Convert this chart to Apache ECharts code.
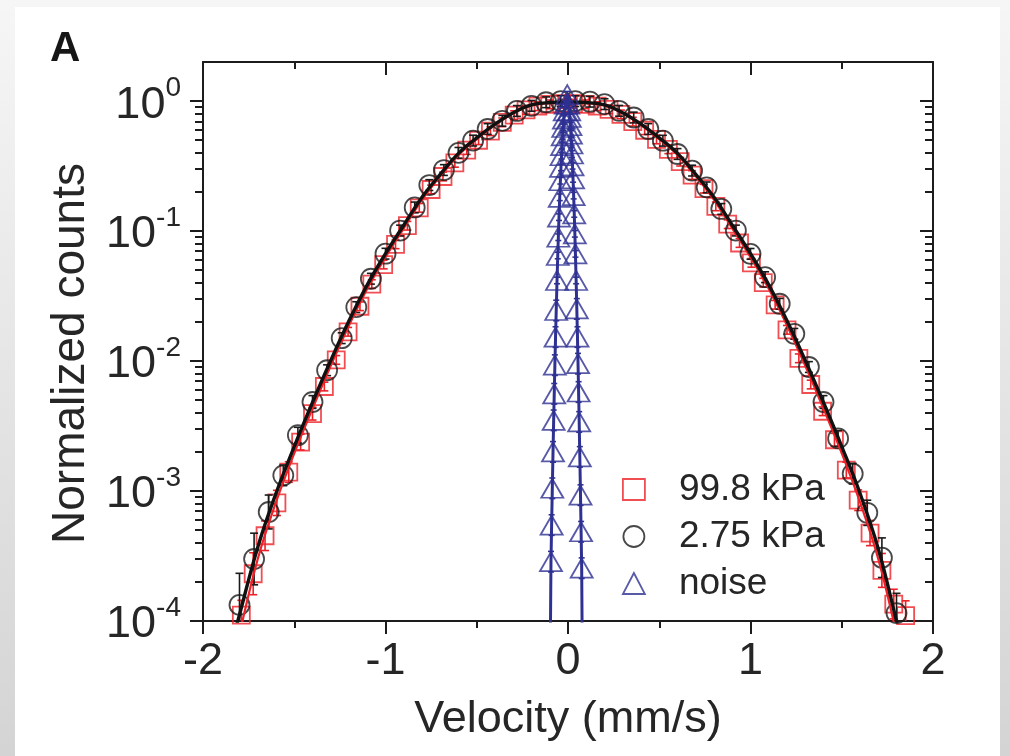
<!DOCTYPE html>
<html><head><meta charset="utf-8">
<script src="https://cdn.jsdelivr.net/npm/echarts@6/dist/echarts.min.js"></script>
<style>
html,body{margin:0;padding:0;width:1010px;height:756px;overflow:hidden;}
body{background:linear-gradient(to bottom,#f6f6f6,#d4d4d4);}
#panel{position:absolute;left:15px;top:7px;width:985px;height:749px;background:#fff;}
#chart{position:absolute;left:0;top:0;width:1010px;height:756px;}
</style></head><body>
<div id="panel"></div><div id="chart"></div>
<script>
// ---- data ----
const xTicks = [-2, -1, 0, 1, 2];
const yTickExponents = [-4, -3, -2, -1, 0];
const legendNames = ['99.8 kPa', '2.75 kPa', 'noise'];

// 2.75 kPa (black circles)
const xCircle = [-1.80,-1.72,-1.64,-1.56,-1.48,-1.40,-1.32,-1.24,-1.16,-1.08,-1.00,-0.92,-0.84,-0.76,-0.68,-0.60,-0.52,-0.44,-0.36,-0.28,-0.20,-0.12,-0.04,
  0.04,0.12,0.20,0.28,0.36,0.44,0.52,0.60,0.68,0.76,0.84,0.92,1.00,1.08,1.16,1.24,1.32,1.40,1.48,1.56,1.64,1.72,1.80];
const yCircle = [1.33e-4,3.0e-4,6.9e-4,1.32e-3,2.69e-3,4.84e-3,8.5e-3,0.0150,0.026,0.043,0.067,0.101,0.152,0.226,0.295,0.40,0.497,0.61,0.706,0.84,0.92,0.98,1.0,
  1.0,0.99,0.948,0.842,0.748,0.61,0.496,0.392,0.292,0.217,0.148,0.101,0.0668,0.0442,0.0276,0.0162,0.0090,0.00484,0.00254,0.00136,6.8e-4,3.07e-4,1.15e-4];
const errCircle = [1.75,1.58,1.35,1.2,1.15,1.12,1.1,1.1,1.1,1.1,1.1,1.1,1.1,1.1,1.1,1.1,1.1,1.1,1.1,1.1,1.1,1.1,1.1,
  1.1,1.1,1.1,1.1,1.1,1.1,1.1,1.1,1.1,1.1,1.1,1.1,1.1,1.1,1.1,1.1,1.1,1.12,1.15,1.2,1.25,1.42,1.42];

// 99.8 kPa (red squares)
const xSquare = [-1.79,-1.725,-1.66,-1.595,-1.53,-1.465,-1.40,-1.335,-1.27,-1.205,-1.14,-1.075,-1.01,-0.945,-0.88,-0.815,-0.75,-0.685,-0.62,-0.555,-0.49,-0.425,-0.36,-0.295,-0.23,-0.165,-0.10,-0.035,
  0.03,0.095,0.16,0.225,0.29,0.355,0.42,0.485,0.55,0.615,0.68,0.745,0.81,0.875,0.94,1.005,1.07,1.135,1.20,1.265,1.33,1.395,1.46,1.525,1.59,1.655,1.72,1.785,1.85];
const ySquare = [1.11e-4,2.31e-4,4.53e-4,8.1e-4,1.40e-3,2.38e-3,3.94e-3,6.37e-3,0.0102,0.0168,0.0264,0.0391,0.0553,0.0791,0.110,0.151,0.209,0.263,0.335,0.420,0.500,0.587,0.687,0.780,0.857,0.914,0.944,0.955,
  0.955,0.945,0.915,0.865,0.79,0.695,0.597,0.507,0.426,0.342,0.270,0.212,0.155,0.113,0.081,0.0570,0.0401,0.0271,0.0174,0.0105,0.0066,0.00411,0.00248,0.00145,8.5e-4,4.75e-4,2.45e-4,1.35e-4,1.1e-4];
const errSquare = [1.3,1.45,1.3,1.25,1.2,1.15,1.12,1.08,1.08,1.08,1.08,1.08,1.08,1.08,1.08,1.08,1.08,1.08,1.08,1.08,1.08,1.08,1.08,1.08,1.08,1.08,1.08,1.08,
  1.08,1.08,1.08,1.08,1.08,1.08,1.08,1.08,1.08,1.08,1.08,1.08,1.08,1.08,1.08,1.08,1.08,1.08,1.08,1.08,1.08,1.08,1.12,1.15,1.2,1.25,1.35,1.3,1.3];

// noise (blue triangles)
const xNoise = [-0.0975,-0.0933,-0.0897,-0.0860,-0.0821,-0.0785,-0.0754,-0.0719,-0.0682,-0.0645,-0.0601,-0.0561,-0.0530,-0.0493,-0.0453,-0.0417,-0.0385,-0.0354,-0.0325,-0.0292,-0.0261,-0.0224,-0.0178,-0.0121,
  -0.004,
  0.0014,0.0065,0.0100,0.0134,0.0162,0.0192,0.0219,0.0248,0.0277,0.0310,0.0343,0.0376,0.0407,0.0446,0.0483,0.0519,0.0550,0.0581,0.0613,0.0648,0.0685,0.0718,0.0750,0.0785];
const yNoise = [5e-5,2.86e-4,5.47e-4,1.05e-3,2.0e-3,3.5e-3,5.6e-3,9.3e-3,0.0153,0.0245,0.0417,0.0649,0.0897,0.128,0.182,0.244,0.309,0.38,0.454,0.541,0.627,0.727,0.842,0.948,
  1.12,
  0.948,0.842,0.748,0.646,0.558,0.468,0.392,0.318,0.252,0.1875,0.1355,0.0953,0.0668,0.0417,0.0252,0.0153,0.00955,0.00578,0.0034,0.00183,0.00093,0.000486,0.000255,5e-5];
const errNoise = [1,1.2,1.2,1.2,1.2,1.2,1.2,1.2,1.2,1.2,1.06,1.06,1.06,1.06,1.06,1.06,1.06,1.06,1.06,1.06,1.06,1.06,1.06,1.06,
  1.06,
  1.06,1.06,1.06,1.06,1.06,1.06,1.06,1.06,1.06,1.06,1.06,1.06,1.06,1.06,1.2,1.2,1.2,1.2,1.2,1.2,1.2,1.2,1.2,1];

// fitted curves
const xFit = [-1.86,-1.8,-1.7,-1.6,-1.5,-1.4,-1.3,-1.2,-1.1,-1.0,-0.9,-0.8,-0.7,-0.6,-0.5,-0.4,-0.3,-0.2,-0.1,0,0.1,0.2,0.3,0.4,0.5,0.6,0.7,0.8,0.9,1.0,1.1,1.2,1.3,1.4,1.5,1.6,1.7,1.8,1.86];
const yFitBlack = [5.5e-5,1.12e-4,3.7e-4,9.6e-4,2.2e-3,4.8e-3,0.0101,0.0204,0.0386,0.067,0.111,0.182,0.273,0.396,0.522,0.666,0.815,0.935,0.975,0.985,0.975,0.935,0.815,0.666,0.522,0.396,0.273,0.182,0.111,0.067,0.0386,0.0204,0.0101,0.0048,0.0022,9.6e-4,3.6e-4,1.0e-4,4.5e-5];
const yFitRed = [3.5e-5,8e-5,3.0e-4,8.2e-4,1.95e-3,4.3e-3,9.2e-3,0.0188,0.036,0.063,0.105,0.174,0.265,0.385,0.51,0.655,0.805,0.925,0.965,0.975,0.965,0.925,0.805,0.655,0.51,0.385,0.265,0.174,0.105,0.063,0.036,0.0188,0.0092,0.0043,0.00195,8.2e-4,3.0e-4,8e-5,3.5e-5];

// ---- styling ----
const FONT = "'Liberation Sans', Arial, Helvetica, sans-serif";
const TXT = '#262626';
const AX = '#1c1c1c';
const RED = '#ec2228';
const BLK = '#1a1a1a';
const BLUE = '#2e3192';
const HOLLOW = 'rgba(0,0,0,0)';

const yMin = 1e-4, yMax = 2;
const expMin = Math.log10(yMin), expMax = Math.log10(yMax);
const minorExp = [];
yTickExponents.slice(0, -1).forEach(e => { for (let m = 2; m <= 9; m++) minorExp.push(e + Math.log10(m)); });

const zip3 = (a, b, c) => a.map((v, i) => [v, b[i], c[i]]);
const zip2 = (a, b) => a.map((v, i) => [v, b[i]]);

function errRender(color, capW) {
  return function (params, api) {
    const x = api.value(0), y = api.value(1), f = api.value(2);
    if (!(f > 1)) return;
    const cs = params.coordSys;
    const top = api.coord([x, y * f]);
    const bot = api.coord([x, y / f]);
    const yTop = Math.max(top[1], cs.y), yBot = Math.min(bot[1], cs.y + cs.height);
    if (yTop >= yBot) return;
    const cx = top[0], w = capW;
    const st = { stroke: color, lineWidth: 1.6 };
    const children = [{ type: 'line', shape: { x1: cx, y1: yTop, x2: cx, y2: yBot }, style: st }];
    if (top[1] >= cs.y) children.push({ type: 'line', shape: { x1: cx - w, y1: yTop, x2: cx + w, y2: yTop }, style: st });
    if (bot[1] <= cs.y + cs.height) children.push({ type: 'line', shape: { x1: cx - w, y1: yBot, x2: cx + w, y2: yBot }, style: st });
    return { type: 'group', children };
  };
}

const axLine = { show: true, onZero: false, lineStyle: { color: AX, width: 2 } };
const tickStyle = { color: AX, width: 2 };

const yTickAxis = (pos, inside, values, len, labels, withName) => ({
  type: 'value', min: expMin, max: expMax, position: pos,
  axisLine: Object.assign({}, axLine, { show: withName !== undefined ? true : false }),
  splitLine: { show: false },
  axisTick: { show: true, inside, length: len, customValues: values, lineStyle: tickStyle },
  axisLabel: labels ? {
    show: true, customValues: yTickExponents, margin: 22, fontSize: 45, fontFamily: FONT, color: TXT,
    formatter: v => '{b|10}{s|' + Math.round(v) + '}',
    rich: {
      b: { fontSize: 45, fontFamily: FONT, color: TXT, padding: [8, 0, 0, 0] },
      s: { fontSize: 28, fontFamily: FONT, color: TXT, verticalAlign: 'top' }
    }
  } : { show: false },
  name: withName ? 'Normalized counts' : '',
  nameLocation: 'middle', nameGap: 109,
  nameTextStyle: { fontSize: 46, fontFamily: FONT, color: TXT, padding: [0, 24, 0, 0] }
});

const chart = echarts.init(document.getElementById('chart'), null, { renderer: 'canvas' });
chart.setOption({
  animation: false,
  backgroundColor: 'transparent',
  grid: { left: 203, right: 77, top: 62, bottom: 135, containLabel: false },
  graphic: [
    { type: 'text', left: 50, top: 28, style: { text: 'A', font: 'bold 42px ' + FONT, fill: '#161616' } }
  ],
  legend: {
    orient: 'vertical', left: 617, top: 466, itemWidth: 22, itemHeight: 21, itemGap: 10,
    selectedMode: false,
    textStyle: { fontSize: 37, lineHeight: 37, fontFamily: FONT, color: TXT, padding: [0, 0, 0, 29] },
    data: [
      { name: legendNames[0], icon: 'rect', itemStyle: { color: HOLLOW, borderColor: RED, borderWidth: 1.8 } },
      { name: legendNames[1], icon: 'circle', itemStyle: { color: HOLLOW, borderColor: BLK, borderWidth: 1.8 } },
      { name: legendNames[2], icon: 'triangle', itemStyle: { color: HOLLOW, borderColor: BLUE, borderWidth: 1.8 } }
    ]
  },
  xAxis: [
    {
      type: 'value', min: xTicks[0], max: xTicks[xTicks.length - 1], interval: 1, position: 'bottom',
      axisLine: axLine, splitLine: { show: false },
      axisTick: { show: true, length: 13, lineStyle: tickStyle },
      minorTick: { show: true, splitNumber: 2, length: 7, lineStyle: tickStyle },
      axisLabel: { show: true, margin: 18, fontSize: 45, fontFamily: FONT, color: TXT },
      name: 'Velocity (mm/s)', nameLocation: 'middle', nameGap: 76,
      nameTextStyle: { fontSize: 45, fontFamily: FONT, color: TXT }
    },
    {
      type: 'value', min: xTicks[0], max: xTicks[xTicks.length - 1], interval: 1, position: 'top',
      axisLine: axLine, splitLine: { show: false },
      axisTick: { show: true, inside: true, length: 13, lineStyle: tickStyle },
      minorTick: { show: true, splitNumber: 2, length: 7, lineStyle: tickStyle },
      axisLabel: { show: false }
    }
  ],
  yAxis: [
    { type: 'log', min: yMin, max: yMax, logBase: 10, show: false, axisLine: { onZero: false }, splitLine: { show: false } },
    yTickAxis('left', false, yTickExponents, 13, true, true),
    yTickAxis('left', false, minorExp, 8, false),
    yTickAxis('right', true, yTickExponents, 13, false, false),
    yTickAxis('right', true, minorExp, 8, false)
  ],
  series: [
    { type: 'custom', name: 'err998', renderItem: errRender(RED, 4), data: zip3(xSquare, ySquare, errSquare), encode: { x: 0, y: 1 }, clip: true, z: 2 },
    { type: 'scatter', name: legendNames[0], data: zip2(xSquare, ySquare), symbol: 'rect', symbolSize: 17,
      itemStyle: { color: HOLLOW, borderColor: RED, borderWidth: 1.8 }, z: 3 },
    { type: 'custom', name: 'err275', renderItem: errRender(BLK, 4), data: zip3(xCircle, yCircle, errCircle), encode: { x: 0, y: 1 }, clip: true, z: 4 },
    { type: 'scatter', name: legendNames[1], data: zip2(xCircle, yCircle), symbol: 'circle', symbolSize: 20,
      itemStyle: { color: HOLLOW, borderColor: BLK, borderWidth: 1.8 }, z: 5 },
    { type: 'line', name: 'fit998', data: zip2(xFit, yFitRed), smooth: 0.4, showSymbol: false, symbol: 'none',
      lineStyle: { color: RED, width: 2.2 }, clip: true, z: 6 },
    { type: 'line', name: 'fit275', data: zip2(xFit, yFitBlack), smooth: 0.4, showSymbol: false, symbol: 'none',
      lineStyle: { color: '#111', width: 3.4 }, clip: true, z: 7 },
    { type: 'line', name: 'noiseLine', data: zip2(xNoise, yNoise), showSymbol: false, symbol: 'none',
      lineStyle: { color: BLUE, width: 3 }, clip: true, z: 8 },
    { type: 'custom', name: 'errNoise', renderItem: errRender(BLUE, 3), data: zip3(xNoise, yNoise, errNoise), encode: { x: 0, y: 1 }, clip: true, z: 9 },
    { type: 'scatter', name: legendNames[2], data: zip2(xNoise, yNoise), symbol: 'triangle', symbolSize: [22, 19],
      itemStyle: { color: HOLLOW, borderColor: BLUE, borderWidth: 1.8 }, z: 10 }
  ]
});
</script></body></html>
